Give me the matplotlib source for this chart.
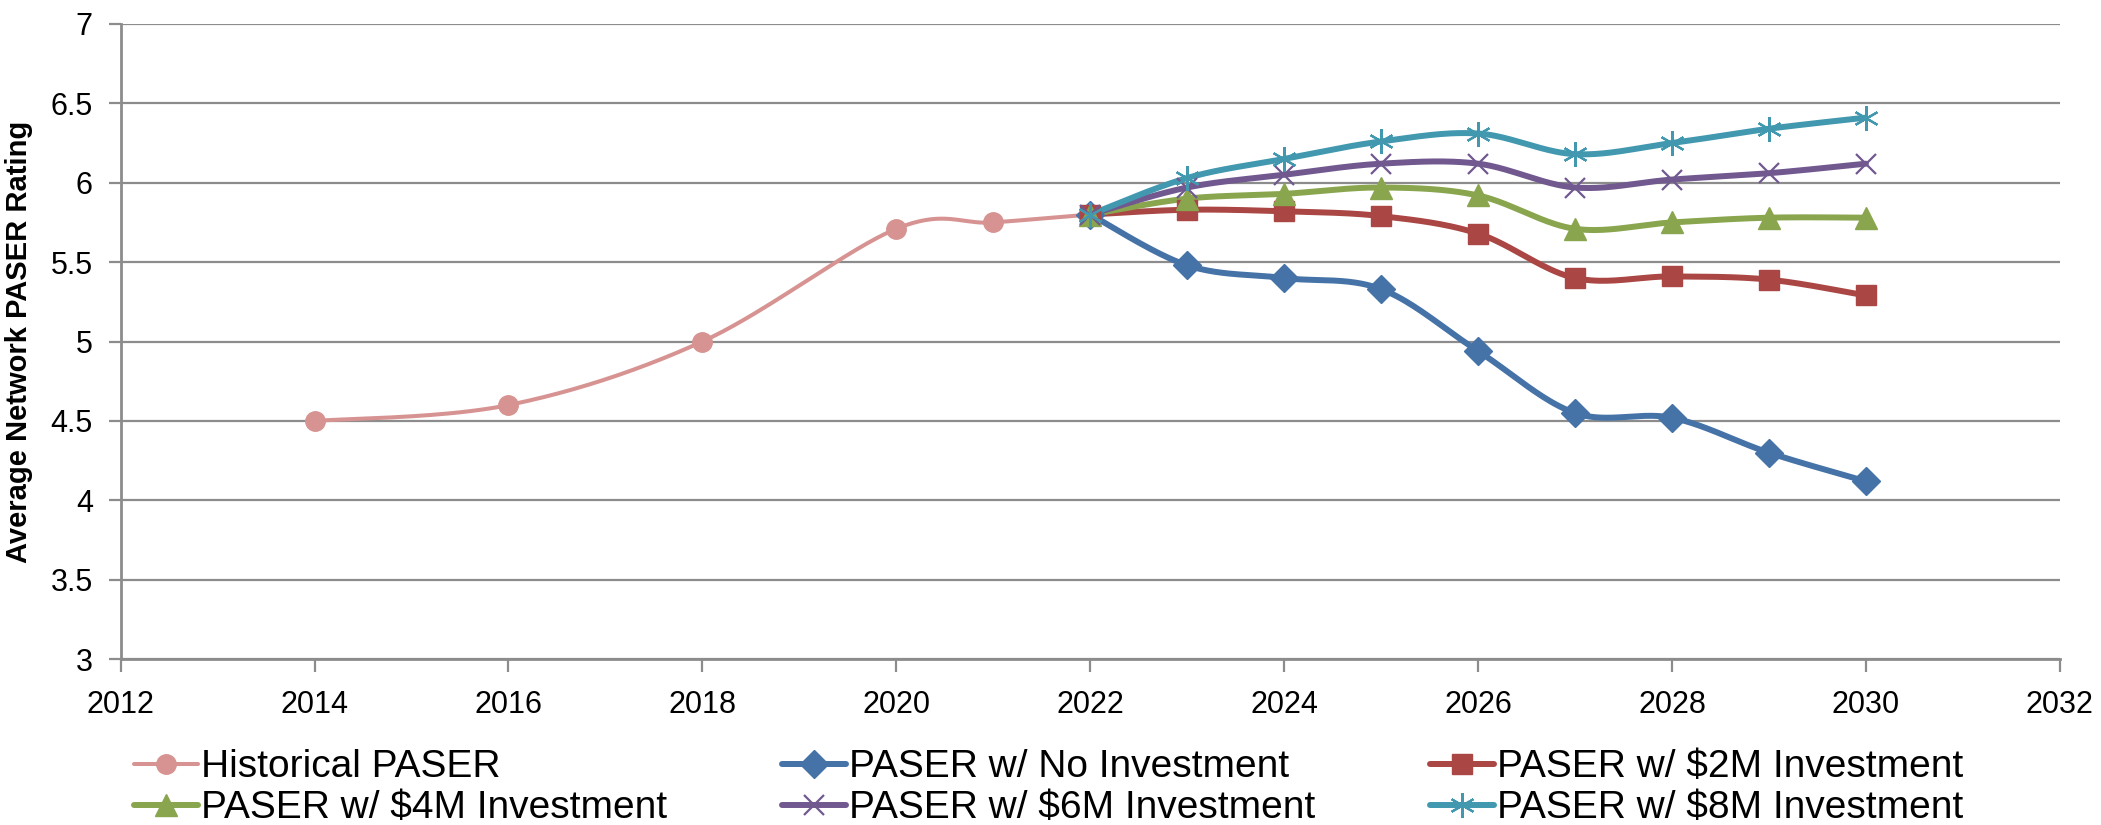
import matplotlib
matplotlib.use("Agg")
import matplotlib.pyplot as plt
from matplotlib.lines import Line2D
import numpy as np

plt.rcParams['font.family'] = ['Liberation Sans', 'DejaVu Sans']
plt.rcParams['xtick.labelsize'] = 22
plt.rcParams['ytick.labelsize'] = 22

# data
hist_years = [2014, 2016, 2018, 2020, 2021, 2022]
hist_paser = [4.5, 4.6, 5.0, 5.71, 5.75, 5.8]

proj_years = [2022, 2023, 2024, 2025, 2026, 2027, 2028, 2029, 2030]
no_inv = [5.8, 5.48, 5.40, 5.33, 4.94, 4.55, 4.52, 4.30, 4.12]
inv_2m = [5.8, 5.83, 5.82, 5.79, 5.68, 5.40, 5.41, 5.39, 5.29]
inv_4m = [5.8, 5.90, 5.93, 5.97, 5.92, 5.71, 5.75, 5.78, 5.78]
inv_6m = [5.8, 5.97, 6.05, 6.12, 6.12, 5.97, 6.02, 6.06, 6.12]
inv_8m = [5.8, 6.03, 6.15, 6.26, 6.31, 6.18, 6.25, 6.34, 6.41]

labels = ["Historical PASER", "PASER w/ No Investment", "PASER w/ $2M Investment",
          "PASER w/ $4M Investment", "PASER w/ $6M Investment", "PASER w/ $8M Investment"]
colors = ["#D69391", "#4572A7", "#AA4643", "#89A54E", "#71588F", "#4198AF"]


def smooth(x, y, n=40):
    # excel style smoothed line (catmull-rom as bezier)
    p = np.column_stack([x, y]).astype(float)
    pp = np.vstack([p[0], p, p[-1]])
    t = np.linspace(0, 1, n)[:, None]
    segs = []
    for i in range(len(p) - 1):
        p0, p3 = p[i], p[i + 1]
        c1 = p0 + (pp[i + 2] - pp[i]) / 6
        c2 = p3 - (pp[i + 3] - pp[i + 1]) / 6
        b = ((1 - t) ** 3) * p0 + 3 * ((1 - t) ** 2) * t * c1 + 3 * (1 - t) * t ** 2 * c2 + t ** 3 * p3
        segs.append(b if i == 0 else b[1:])
    s = np.vstack(segs)
    return s[:, 0], s[:, 1]


fig = plt.figure(figsize=(21.01, 8.25), dpi=100)
ax = fig.add_axes([0.0574, 0.201, 0.923, 0.770])

series = [
    (hist_years, hist_paser, "o", 14, 2.9),
    (proj_years, no_inv, "D", 14, 4.3),
    (proj_years, inv_2m, "s", 15, 4.3),
    (proj_years, inv_4m, "^", 16, 4.3),
    (proj_years, inv_6m, "x", 15, 4.3),
    (proj_years, inv_8m, (6, 2, 0), 18, 4.3),
]

handles = []
for (xs, ys, mk, ms, lw), lab, c in zip(series, labels, colors):
    sx, sy = smooth(xs, ys)
    ax.plot(sx, sy, color=c, lw=lw, solid_capstyle="round", zorder=3)
    mew = 1.6 if mk in ("x", (6, 2, 0)) else 1
    ax.plot(xs, ys, ls="none", marker=mk, ms=ms, color=c, mec=c, mew=mew, zorder=4)
    handles.append(Line2D([], [], color=c, lw=lw, marker=mk, ms=ms, mec=c, mew=mew,
                          solid_capstyle="round"))

ax.set_xlim(2012, 2032)
ax.set_ylim(3, 7)
ax.set_xticks(np.arange(2012, 2033, 2))
ax.set_yticks(np.arange(3, 7.01, 0.5))
ax.set_yticklabels(["3", "3.5", "4", "4.5", "5", "5.5", "6", "6.5", "7"])

grid_c = "#8C8C8C"
ax.yaxis.grid(True, color=grid_c, lw=1.6, zorder=0)
for side in ["top", "right"]:
    ax.spines[side].set_visible(False)
for side in ["left", "bottom"]:
    ax.spines[side].set_color(grid_c)
    ax.spines[side].set_linewidth(2)
ax.tick_params(axis="both", direction="out", length=9, width=1.6, color=grid_c)
ax.tick_params(axis="x", pad=13)
ax.tick_params(axis="y", pad=11)

ax.set_ylabel("Average Network PASER Rating", fontsize=21, fontweight="bold")
ax.yaxis.set_label_coords(-0.045, 0.5)

# legend fills column-wise, so reorder to keep the row layout
order = [0, 3, 1, 4, 2, 5]
leg = fig.legend([handles[i] for i in order], [labels[i] for i in order],
                 loc="upper left", bbox_to_anchor=(0.047, 0.134), ncol=3, frameon=False,
                 handlelength=1.65, handletextpad=0.08, columnspacing=2.95, labelspacing=0.12,
                 fontsize=28)

fig.savefig("out.png", dpi=100)
